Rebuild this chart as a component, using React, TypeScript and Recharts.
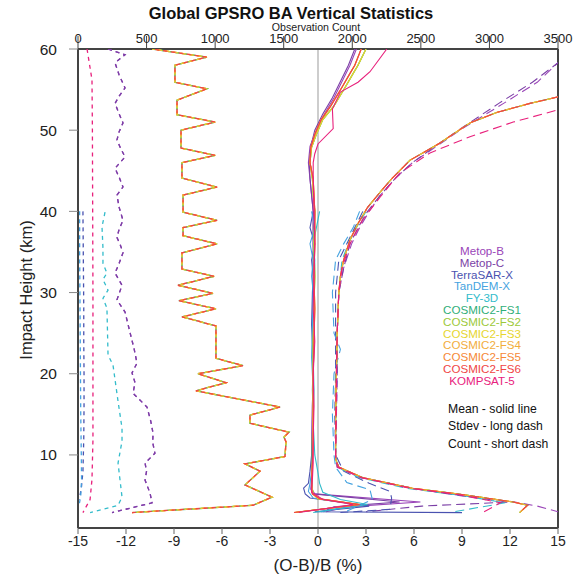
import { ScatterChart, Scatter, XAxis, YAxis, ReferenceLine, Legend } from "recharts";

const FONT = '"Liberation Sans", Arial, Helvetica, sans-serif';

const satellites = [
  "Metop-B",
  "Metop-C",
  "TerraSAR-X",
  "TanDEM-X",
  "FY-3D",
  "COSMIC2-FS1",
  "COSMIC2-FS2",
  "COSMIC2-FS3",
  "COSMIC2-FS4",
  "COSMIC2-FS5",
  "COSMIC2-FS6",
  "KOMPSAT-5",
];
const colors = [
  "#9a45b8",
  "#7b3fa6",
  "#4a52b0",
  "#45a3e0",
  "#33bccb",
  "#2fae78",
  "#9cc93a",
  "#e6d62e",
  "#f2ad3c",
  "#f68836",
  "#f04545",
  "#e8217c",
];
const styleNotes = ["Mean - solid line", "Stdev - long dash", "Count - short dash"];

const pctTicks = [-15, -12, -9, -6, -3, 0, 3, 6, 9, 12, 15];
const countTicks = [0, 500, 1000, 1500, 2000, 2500, 3000, 3500];
const heightTicks = [10, 20, 30, 40, 50, 60];

// ---- mean (O-B)/B, %
const cosmicMeanH = [60, 58, 57, 55.3, 53, 51.3, 49.5, 47.9, 46, 44, 42, 40, 36, 32, 28, 24, 20, 16, 12, 9, 7, 5.8, 5.2, 4.6, 3.9, 2.9];
const cosmicMeanA = [3.0, 2.5, 2.2, 1.7, 1.0, 0.3, -0.1, -0.4, -0.5, -0.35, -0.3, -0.2, -0.25, -0.2, -0.25, -0.3, -0.3, -0.3, -0.35, -0.35, -0.4, -0.35, -0.3, 0.0, 2.5, -1.4];
const cosmicMeanB = [2.7, 2.3, 2.0, 1.5, 0.8, 0.2, -0.2, -0.45, -0.5, -0.3, -0.25, -0.2, -0.2, -0.25, -0.2, -0.25, -0.3, -0.3, -0.3, -0.35, -0.4, -0.4, -0.35, 0.1, 2.6, -1.5];
const metopMeanH = [60, 58, 56, 54, 52, 50, 48, 46, 44, 42, 40, 36, 32, 28, 24, 20, 16, 12, 9, 7, 5.8, 5.2, 4.2, 3.6, 3.0];
const metopBMean = [2.4, 2.0, 1.5, 1.0, 0.4, -0.1, -0.5, -0.6, -0.5, -0.4, -0.3, -0.3, -0.25, -0.3, -0.3, -0.3, -0.35, -0.4, -0.4, -0.4, -0.4, -0.2, 6.4, 1.8, 0.5];
const metopCMean = [2.3, 1.9, 1.4, 0.9, 0.3, -0.2, -0.45, -0.55, -0.5, -0.4, -0.3, -0.3, -0.3, -0.3, -0.25, -0.3, -0.35, -0.35, -0.4, -0.4, -0.45, -0.3, 5.1, 1.0, 0.3];
const terraMeanH = [40, 38, 36, 34, 32, 30, 26, 22, 18, 14, 10, 8, 6.5, 5.9, 5.2, 4.7, 3.7, 3.0, 2.9];
const terraMean = [-0.3, -0.5, -0.2, -0.4, -0.3, -0.35, -0.4, -0.3, -0.35, -0.3, -0.4, -0.5, -0.6, -0.9, -0.8, -0.5, 3.2, -0.2, 9.0];
const tandemMeanH = [40, 38, 36, 34, 32, 30, 26, 22, 18, 14, 10, 8, 6.5, 5.5, 4.7, 3.9, 3.0];
const tandemMean = [-0.4, -0.2, -0.5, -0.3, -0.4, -0.3, -0.35, -0.4, -0.3, -0.35, -0.35, -0.4, -0.5, -0.6, -0.3, 2.4, 0.2];
const fy3dMeanH = [40, 38, 36, 34, 30, 26, 22, 18, 14, 10, 7.8, 6.5, 5.4, 4.5, 3.9, 2.9];
const fy3dMean = [0.1, -0.1, -0.3, -0.2, -0.25, -0.3, -0.3, -0.25, -0.3, -0.2, 0.0, 0.1, 0.3, 1.4, 3.1, -0.3];
const kompsatMeanH = [60, 57.2, 55.9, 54.7, 52.6, 50.2, 48.3, 47.1, 46, 44, 40, 36, 32, 28, 24, 20, 16, 12, 9, 7, 5.4, 4.5, 3.9, 2.9];
const kompsatMean = [4.3, 3.25, 2.5, 1.4, 0.9, 0.95, 0.0, -0.2, -0.3, -0.3, -0.25, -0.2, -0.25, -0.3, -0.2, -0.3, -0.25, -0.3, -0.3, -0.35, -0.4, 0.3, 2.2, -1.2];

// ---- stdev, %
const cosmicStdH = [55.0, 54.1, 53.3, 52.2, 50.9, 48.4, 46.3, 44.0, 42.4, 40.5, 38.5, 36.5, 34, 32, 30, 25, 20, 15, 11, 9.5, 8.5, 7.2, 5.9, 5.1, 4.2, 3.8, 2.9];
const cosmicStd = [16.2, 15.0, 13.25, 11.2, 9.5, 7.6, 5.75, 4.6, 3.9, 3.1, 2.5, 2.0, 1.6, 1.4, 1.3, 1.2, 1.15, 1.1, 1.1, 1.1, 1.3, 2.8, 5.9, 9.1, 12.2, 13.1, 12.6];
const metopStdH = [59.5, 58.3, 55.9, 53.3, 50.3, 48, 46, 44, 42, 40, 38, 36, 33, 30, 25, 20, 15, 10, 8.5, 7.2, 5.9, 5.0, 4.2, 3.7, 3.0];
const metopBStd = [16.0, 15.0, 13.7, 11.6, 9.1, 7.4, 5.9, 4.8, 3.9, 3.2, 2.6, 2.1, 1.6, 1.3, 1.2, 1.2, 1.15, 1.1, 1.2, 2.7, 5.8, 9.0, 12.3, 13.7, 15.0];
const metopCStd = [15.8, 15.0, 13.4, 11.3, 9.0, 7.3, 5.9, 4.8, 3.9, 3.1, 2.5, 2.0, 1.6, 1.3, 1.2, 1.2, 1.15, 1.1, 1.25, 2.8, 5.9, 8.8, 12.0, 6.5, 3.0];
const terraStdH = [40, 38, 36, 34, 30, 25, 20, 15, 10, 8, 6.5, 5.5, 4.7, 3.3, 2.9];
const terraStd = [2.8, 2.3, 1.8, 1.3, 1.1, 1.1, 1.1, 1.05, 1.1, 1.6, 3.2, 4.5, 4.6, 4.5, 1.4];
const tandemStdH = [40, 38, 36, 34, 30, 25, 23, 20, 15, 10, 8.5, 6.6, 5.7, 4.5, 2.9];
const tandemStd = [2.6, 2.2, 1.6, 1.1, 0.9, 1.0, 1.4, 1.0, 0.9, 1.0, 1.1, 1.8, 3.25, 3.4, 1.6];
const fy3dStdH = [40, 38, 36, 34, 30, 25, 20, 15, 10, 8.5, 7.2, 5.9, 5.0, 4.1, 3.0];
const fy3dStd = [3.0, 2.4, 1.9, 1.5, 1.3, 1.2, 1.15, 1.1, 1.1, 1.2, 2.6, 5.5, 9.0, 11.7, 8.5];
const kompsatStdH = [53.5, 52.5, 51.0, 49.2, 47.2, 44.7, 41.8, 39, 36, 33, 30, 25, 20, 15, 10, 8.5, 7.2, 5.9, 5.1, 4.1, 2.9];
const kompsatStd = [16.5, 15.0, 12.2, 9.5, 7.0, 5.1, 3.9, 2.8, 2.0, 1.5, 1.3, 1.2, 1.15, 1.15, 1.1, 1.2, 2.7, 5.7, 8.8, 11.4, 10.3];

// ---- observation count
const cosmicCountH = [60.0, 59.0, 58.0, 55.9, 55.1, 53.7, 51.9, 51.0, 50.0, 47.8, 46.9, 46.0, 44.1, 43.0, 42.0, 39.9, 38.9, 38.0, 37.0, 36.0, 34.9, 32.9, 32.0, 30.9, 29.9, 29.0, 28.0, 27.0, 25.9, 21.9, 21.0, 20.0, 18.9, 17.9, 15.9, 14.9, 13.9, 12.8, 12.2, 11.6, 9.8, 8.9, 8.0, 6.3, 4.8, 3.8, 2.9];
const cosmicCount = [540, 940, 707, 707, 940, 722, 722, 1000, 751, 751, 1000, 758, 758, 1014, 766, 766, 1014, 766, 766, 1014, 758, 758, 992, 729, 984, 736, 1006, 758, 1006, 1006, 1203, 875, 1079, 860, 1473, 1254, 1254, 1539, 1502, 1517, 1509, 1218, 1327, 1218, 1415, 1276, 394];
const metopCountH = [60, 59.3, 58.3, 56.8, 55.2, 54.2, 53.3, 52.0, 50.9, 49.8, 48.8, 47.8, 46.7, 45.3, 44.2, 43.0, 42.0, 40.5, 38.9, 37.8, 36.8, 35.8, 34.9, 33.6, 32.4, 30.9, 29.1, 27.6, 25.1, 23.0, 21.3, 20.1, 18.9, 17.6, 15.9, 14.2, 12.7, 11.5, 10.2, 9.0, 8.0, 6.9, 5.3, 4.1, 2.9];
const metopCount = [219, 343, 270, 300, 343, 300, 270, 300, 328, 300, 284, 310, 343, 270, 300, 328, 284, 300, 328, 300, 284, 310, 328, 300, 270, 321, 284, 343, 379, 410, 430, 394, 416, 401, 503, 530, 547, 545, 561, 489, 500, 489, 525, 540, 248];
const terraCountH = [40, 36, 32, 28, 24, 20, 16, 12, 8, 6, 4.5];
const terraCount = [36, 38, 40, 42, 42, 44, 44, 42, 36, 25, 10];
const tandemCountH = [40, 35, 30, 25, 20, 15, 10, 7, 5, 3.8];
const tandemCount = [12, 12, 14, 16, 18, 20, 24, 26, 20, 8];
const fy3dCountH = [39.9, 38.1, 35.5, 33.6, 32.4, 31.6, 30.3, 29.3, 28.1, 22.3, 21.1, 16.6, 13.3, 11.7, 9.0, 4.8, 3.8, 2.9];
const fy3dCount = [197, 175, 182, 182, 211, 182, 219, 182, 211, 219, 255, 292, 321, 321, 292, 321, 292, 88];
const kompsatCountH = [60, 56.2, 50, 40, 30, 20, 11.8, 7, 4.5, 2.9];
const kompsatCount = [66, 102, 105, 107, 109, 109, 109, 102, 88, 36];

type Pt = { x: number; y: number };
const zip = (h: number[], v: number[]): Pt[] => h.map((y, i) => ({ x: v[i], y }));

// per satellite: [mean, stdev, count] profiles, plus dash offset so the overlapping COSMIC2 lines mix colours
const profiles: [Pt[], Pt[], Pt[], number][] = [
  [zip(metopMeanH, metopBMean), zip(metopStdH, metopBStd), zip(metopCountH, metopCount), 0],
  [zip(metopMeanH, metopCMean), zip(metopStdH, metopCStd), zip(metopCountH, metopCount), 0],
  [zip(terraMeanH, terraMean), zip(terraStdH, terraStd), zip(terraCountH, terraCount), 0],
  [zip(tandemMeanH, tandemMean), zip(tandemStdH, tandemStd), zip(tandemCountH, tandemCount), 0],
  [zip(fy3dMeanH, fy3dMean), zip(fy3dStdH, fy3dStd), zip(fy3dCountH, fy3dCount), 0],
  [zip(cosmicMeanH, cosmicMeanA), zip(cosmicStdH, cosmicStd), zip(cosmicCountH, cosmicCount), 0],
  [zip(cosmicMeanH, cosmicMeanA), zip(cosmicStdH, cosmicStd), zip(cosmicCountH, cosmicCount), 1],
  [zip(cosmicMeanH, cosmicMeanA), zip(cosmicStdH, cosmicStd), zip(cosmicCountH, cosmicCount), 2],
  [zip(cosmicMeanH, cosmicMeanB), zip(cosmicStdH, cosmicStd), zip(cosmicCountH, cosmicCount), 3],
  [zip(cosmicMeanH, cosmicMeanB), zip(cosmicStdH, cosmicStd), zip(cosmicCountH, cosmicCount), 4],
  [zip(cosmicMeanH, cosmicMeanB), zip(cosmicStdH, cosmicStd), zip(cosmicCountH, cosmicCount), 5],
  [zip(kompsatMeanH, kompsatMean), zip(kompsatStdH, kompsatStd), zip(kompsatCountH, kompsatCount), 0],
];

const noDot = () => <g />;

const TopTick = ({ x, payload }: any) => (
  <text x={x} y={43} textAnchor="middle" fontSize={13} fill="#222" fontFamily={FONT}>
    {payload.value}
  </text>
);

const legendContent = () => (
  <div style={{ fontFamily: FONT }}>
    <div style={{ textAlign: "center", fontSize: 11.6, lineHeight: "11.8px" }}>
      {satellites.map((s, i) => (
        <div key={s} style={{ color: colors[i] }}>
          {s}
        </div>
      ))}
    </div>
    <div
      style={{
        marginTop: 14,
        paddingLeft: 26,
        fontSize: 12.2,
        lineHeight: "17.5px",
        color: "#111",
        whiteSpace: "nowrap",
      }}
    >
      {styleNotes.map((n) => (
        <div key={n}>{n}</div>
      ))}
    </div>
  </div>
);

export default function App() {
  return (
    <div style={{ position: "absolute", left: 0, top: 0, width: 582, height: 577, background: "#fff", fontFamily: FONT }}>
      <ScatterChart width={582} height={577} margin={{ top: 0, right: 24, bottom: 0, left: 0 }}>
        <XAxis
          xAxisId="pct"
          type="number"
          dataKey="x"
          orientation="bottom"
          domain={[-15, 15]}
          ticks={pctTicks}
          allowDataOverflow
          height={49}
          axisLine={{ stroke: "#444", strokeWidth: 2 }}
          tickLine={{ stroke: "#666" }}
          tickSize={6}
          tickMargin={2}
          tick={{ fontSize: 14, fill: "#222", fontFamily: FONT }}
          label={() => (
            <text x={318} y={571} textAnchor="middle" fontSize={17} fill="#222" fontFamily={FONT}>
              (O-B)/B (%)
            </text>
          )}
        />
        <XAxis
          xAxisId="cnt"
          type="number"
          dataKey="x"
          orientation="top"
          domain={[0, 3500]}
          ticks={countTicks}
          allowDataOverflow
          height={49}
          axisLine={{ stroke: "#444", strokeWidth: 2 }}
          tickLine={{ stroke: "#444" }}
          tickSize={13}
          tick={TopTick}
          label={() => (
            <text x={316} y={31} textAnchor="middle" fontSize={10.6} fill="#222" fontFamily={FONT}>
              Observation Count
            </text>
          )}
        />
        <YAxis
          yAxisId="h"
          type="number"
          dataKey="y"
          domain={[1, 60]}
          ticks={heightTicks}
          allowDataOverflow
          width={78}
          axisLine={{ stroke: "#444", strokeWidth: 2 }}
          tickLine={{ stroke: "#888" }}
          tickSize={9}
          tickMargin={12}
          tick={{ fontSize: 15.5, fill: "#222", fontFamily: FONT }}
          label={() => (
            <text
              transform="translate(26,290) rotate(-90)"
              textAnchor="middle"
              dominantBaseline="central"
              fontSize={16.5}
              fill="#222"
              fontFamily={FONT}
            >
              Impact Height (km)
            </text>
          )}
        />
        <ReferenceLine xAxisId="pct" yAxisId="h" x={0} stroke="#bdbdbd" strokeWidth={1.5} />
        <ReferenceLine xAxisId="pct" yAxisId="h" x={15} stroke="#444" strokeWidth={2} />
        {profiles.map(([mean, std, count, off], i) => [
          <Scatter
            key={`c${i}`}
            name={`${satellites[i]} count`}
            data={count}
            xAxisId="cnt"
            yAxisId="h"
            shape={noDot}
            lineType="joint"
            line={{ stroke: colors[i], strokeWidth: 1.3, strokeDasharray: "4 4", strokeDashoffset: off }}
            isAnimationActive={false}
          />,
          <Scatter
            key={`s${i}`}
            name={`${satellites[i]} stdev`}
            data={std}
            xAxisId="pct"
            yAxisId="h"
            shape={noDot}
            lineType="joint"
            line={{ stroke: colors[i], strokeWidth: 1.1, strokeDasharray: "9 5", strokeDashoffset: off * 2 }}
            isAnimationActive={false}
          />,
          <Scatter
            key={`m${i}`}
            name={`${satellites[i]} mean`}
            data={mean}
            xAxisId="pct"
            yAxisId="h"
            shape={noDot}
            lineType="joint"
            line={{ stroke: colors[i], strokeWidth: 1.1 }}
            isAnimationActive={false}
          />,
        ])}
        <Legend
          layout="horizontal"
          verticalAlign="middle"
          align="center"
          wrapperStyle={{ left: 422, top: 245, width: 120, height: 210 }}
          content={legendContent}
        />
      </ScatterChart>
      <div
        style={{
          position: "absolute",
          left: 0,
          top: 4,
          width: 582,
          textAlign: "center",
          fontSize: 16.5,
          fontWeight: "bold",
          color: "#111",
          pointerEvents: "none",
        }}
      >
        Global GPSRO BA Vertical Statistics
      </div>
    </div>
  );
}
